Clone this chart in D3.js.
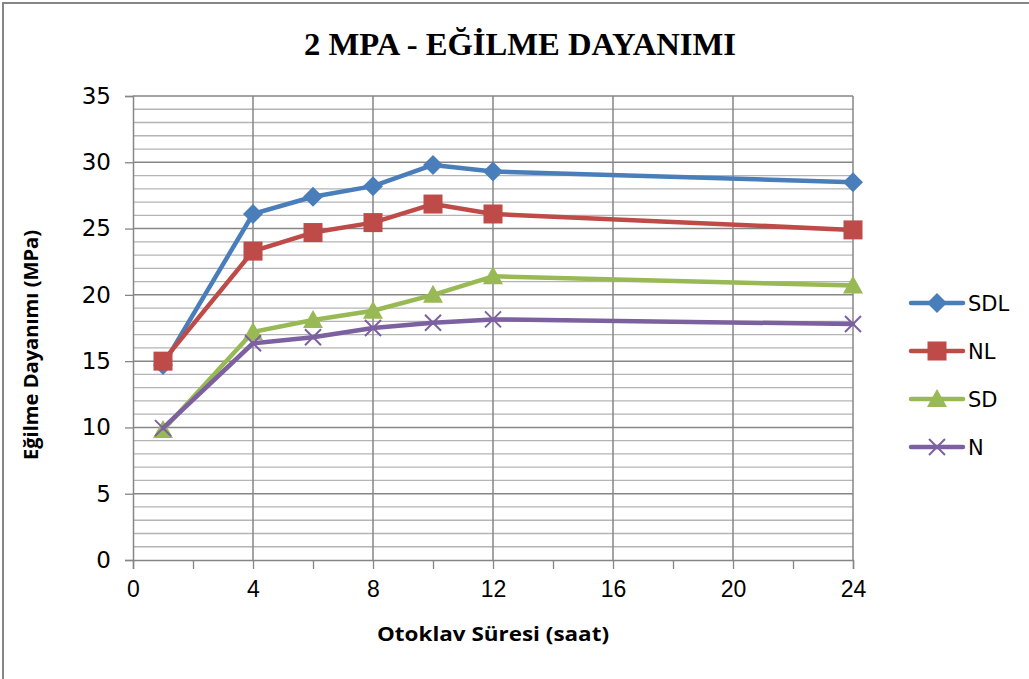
<!DOCTYPE html>
<html>
<head>
<meta charset="utf-8">
<script src="https://cdn.jsdelivr.net/npm/d3@7"></script>
<style>
  body { margin: 0; background: #fff; }
  svg { display: block; }
</style>
</head>
<body>
<script>
// x values (hours) and the four series
const hours = [1, 4, 6, 8, 10, 12, 24];
const sdl = [14.7, 26.1, 27.4, 28.2, 29.8, 29.3, 28.5];
const nl  = [15.0, 23.3, 24.7, 25.45, 26.85, 26.1, 24.9];
const sd  = [9.8, 17.2, 18.1, 18.8, 20.0, 21.4, 20.7];
const n   = [9.95, 16.35, 16.8, 17.5, 17.9, 18.15, 17.8];
const seriesNames = ["SDL", "NL", "SD", "N"];
const xTicks = [0, 4, 8, 12, 16, 20, 24];
const yTicks = [0, 5, 10, 15, 20, 25, 30, 35];

const colors = ["#4a7ebb", "#be4b48", "#98b954", "#7d60a0"];
const shapes = ["diamond", "square", "triangle", "x"];
const allSeries = [sdl, nl, sd, n];

const W = 1029, H = 679;
const margin = {left: 133, right: 176, top: 96, bottom: 119};

const svg = d3.select("body").append("svg")
  .attr("width", W).attr("height", H);

// outer frame
svg.append("rect")
  .attr("x", 3).attr("y", 3).attr("width", 1040).attr("height", 700)
  .attr("fill", "none").attr("stroke", "#868686").attr("stroke-width", 2);

const x = d3.scaleLinear().domain([0, 24]).range([margin.left, W - margin.right]);
const y = d3.scaleLinear().domain([0, 35]).range([H - margin.bottom, margin.top]);

// minor horizontal grid every 1 MPa
svg.append("g").selectAll("line")
  .data(d3.range(1, 36).filter(v => v % 5 !== 0))
  .enter().append("line")
  .attr("x1", x(0)).attr("x2", x(24))
  .attr("y1", d => y(d)).attr("y2", d => y(d))
  .attr("stroke", "#b4b4b4").attr("stroke-width", 1.3);

// major horizontal grid
svg.append("g").selectAll("line")
  .data(yTicks.filter(v => v > 0))
  .enter().append("line")
  .attr("x1", x(0)).attr("x2", x(24))
  .attr("y1", d => y(d)).attr("y2", d => y(d))
  .attr("stroke", "#868686").attr("stroke-width", 1.5);

// vertical grid
svg.append("g").selectAll("line")
  .data(xTicks.filter(v => v > 0))
  .enter().append("line")
  .attr("x1", d => x(d)).attr("x2", d => x(d))
  .attr("y1", y(0)).attr("y2", y(35))
  .attr("stroke", "#868686").attr("stroke-width", 1.5);

// axes
const yAxis = svg.append("g")
  .attr("transform", "translate(" + x(0) + ",0)")
  .call(d3.axisLeft(y).tickValues(yTicks).tickSize(8).tickPadding(14));
const xAxis = svg.append("g")
  .attr("transform", "translate(0," + y(0) + ")")
  .call(d3.axisBottom(x).tickValues(d3.range(0, 25, 2)).tickSize(9).tickPadding(12)
    .tickFormat(d => d % 4 === 0 ? d : ""));
[yAxis, xAxis].forEach(a => {
  a.select(".domain").attr("stroke", "#868686").attr("stroke-width", 1.5);
  a.selectAll(".tick line").attr("stroke", "#868686").attr("stroke-width", 1.3);
  a.selectAll("text").attr("fill", "#000").attr("font-family", "'DejaVu Sans', sans-serif").attr("font-size", 23);
});
xAxis.selectAll("text")
  .attr("font-family", "'Liberation Sans Narrow', 'Liberation Sans', sans-serif")
  .attr("font-size", 23);

// lines and markers
const line = d3.line().x((d, i) => x(hours[i])).y(d => y(d));

function drawMarker(g, shape, color, cx, cy) {
  if (shape === "diamond") {
    g.append("path").attr("d", `M${cx},${cy-10}L${cx+10},${cy}L${cx},${cy+10}L${cx-10},${cy}Z`).attr("fill", color);
  } else if (shape === "square") {
    g.append("rect").attr("x", cx - 9.5).attr("y", cy - 9.5).attr("width", 19).attr("height", 19).attr("fill", color);
  } else if (shape === "triangle") {
    g.append("path").attr("d", `M${cx},${cy-10}L${cx+10},${cy+8}L${cx-10},${cy+8}Z`).attr("fill", color);
  } else {
    g.append("path").attr("d", `M${cx-8},${cy-8}L${cx+8},${cy+8}M${cx-8},${cy+8}L${cx+8},${cy-8}`)
      .attr("stroke", color).attr("stroke-width", 2);
  }
}

allSeries.forEach((vals, s) => {
  svg.append("path").datum(vals)
    .attr("d", line)
    .attr("fill", "none").attr("stroke", colors[s]).attr("stroke-width", 4.5)
    .attr("stroke-linejoin", "round").attr("stroke-linecap", "round");
  const g = svg.append("g");
  vals.forEach((v, i) => drawMarker(g, shapes[s], colors[s], x(hours[i]), y(v)));
});

// legend
const legend = svg.append("g");
seriesNames.forEach((name, s) => {
  const ly = 303 + s * 48;
  legend.append("line").attr("x1", 911).attr("x2", 963).attr("y1", ly).attr("y2", ly)
    .attr("stroke", colors[s]).attr("stroke-width", 4.5).attr("stroke-linecap", "round");
  drawMarker(legend, shapes[s], colors[s], 937, ly);
  legend.append("text").attr("x", 968).attr("y", ly + 8)
    .style("font-family", "'DejaVu Sans', sans-serif").style("font-size", "21px")
    .text(name);
});

// title
svg.append("text")
  .attr("x", 520).attr("y", 55)
  .attr("text-anchor", "middle")
  .attr("textLength", 432).attr("lengthAdjust", "spacingAndGlyphs")
  .style("font-family", "'Liberation Serif', serif").style("font-weight", "bold").style("font-size", "31px")
  .text("2 MPA - EĞİLME DAYANIMI");

// axis titles
svg.append("text")
  .attr("transform", "translate(38," + 345 + ") rotate(-90)")
  .attr("text-anchor", "middle")
  .attr("textLength", 230).attr("lengthAdjust", "spacingAndGlyphs")
  .style("font-family", "'Open Sans', sans-serif").style("font-weight", "bold").style("font-size", "19px")
  .text("Eğilme Dayanımı (MPa)");

svg.append("text")
  .attr("x", 493).attr("y", 641)
  .attr("text-anchor", "middle")
  .attr("textLength", 232).attr("lengthAdjust", "spacingAndGlyphs")
  .style("font-family", "'Open Sans', sans-serif").style("font-weight", "bold").style("font-size", "20px")
  .text("Otoklav Süresi (saat)");
</script>
</body>
</html>
